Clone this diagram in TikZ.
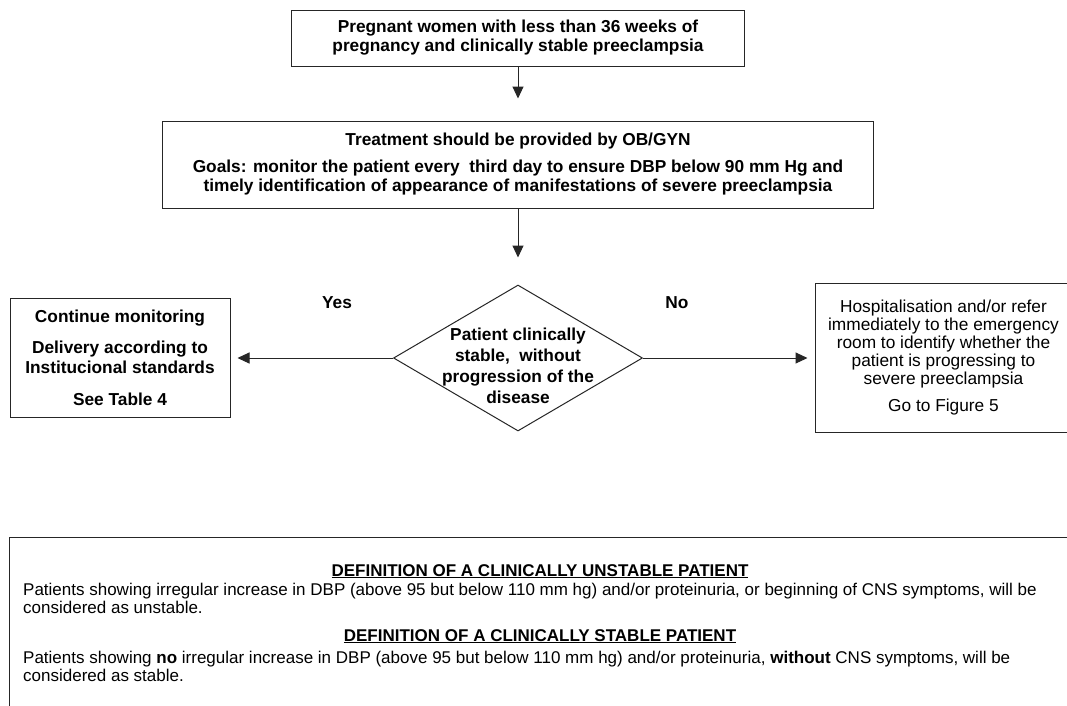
\documentclass[tikz,border=0pt]{standalone}
\usepackage{fontspec}
\setmainfont{Liberation Sans}
\usetikzlibrary{arrows.meta,shapes.geometric}
\begin{document}
\begin{tikzpicture}[x=1pt,y=-1pt,
  line/.style={draw=black!85, line width=1pt},
  box/.style={line, rectangle, inner sep=0pt, align=center},
  flowfont/.style={font=\fontsize{17.3}{19}\selectfont\bfseries},
  plainfont/.style={font=\fontsize{17.3}{18}\selectfont},
  notefont/.style={font=\fontsize{17}{18}\selectfont},
  arr/.style={line, -{Triangle[length=12pt,width=11pt]}},
  decision/.style={line, diamond, inner sep=0pt, minimum width=249pt, minimum height=146pt},
]
\clip (0,0) rectangle (1067,705);
\fill[white] (0,0) rectangle (1067,705);

% flow boxes
\node[box, flowfont, minimum width=453pt, minimum height=56pt] (start) at (518,38)
  {Pregnant women with less than 36 weeks of\\pregnancy and clinically stable preeclampsia};

\node[box, flowfont, minimum width=711pt, minimum height=87pt] (treat) at (518,164.5)
  {Treatment should be provided by OB/GYN\\[8pt]Goals: monitor the patient every\ \ third day to ensure DBP below 90 mm Hg and\\timely identification of appearance of manifestations of severe preeclampsia};

\node[decision] (dec) at (518,358) {};
\node[align=center, font=\fontsize{17.3}{21}\selectfont\bfseries] (dectext) at (518,365.5)
  {Patient clinically\\stable,\ \ without\\progression of the\\disease};

\node[box, font=\fontsize{17.3}{20}\selectfont\bfseries, minimum width=220pt, minimum height=119pt] (yesbox) at (120,358)
  {Continue monitoring\\[11pt]Delivery according to\\Institucional standards\\[12pt]See Table 4};

\node[box, plainfont, minimum width=257pt, minimum height=149pt] (nobox) at (943.5,358)
  {Hospitalisation and/or refer\\immediately to the emergency\\room to identify whether the\\patient is progressing to\\severe preeclampsia\\[9pt]Go to Figure 5};

% branch labels
\node[flowfont] (yes) at (337,303) {Yes};
\node[flowfont] (no) at (677,303) {No};

% connectors
\draw[arr, shorten >=22pt] (start) -- (treat);
\draw[arr, shorten >=27pt] (treat) -- (dec);
\draw[arr, shorten >=7pt] (dec) -- (yesbox);
\draw[arr, shorten >=7pt] (dec) -- (nobox);

% definitions panel
\node[box, minimum width=1072pt, minimum height=182pt] (defs) at (545,628) {};
\node[font=\fontsize{17}{18}\selectfont\bfseries, anchor=base] (h1) at (540,576)
  {\underline{DEFINITION OF A CLINICALLY UNSTABLE PATIENT}};
\node[notefont, align=left, anchor=base west, inner sep=0pt] (d1) at (23,613)
  {Patients showing irregular increase in DBP (above 95 but below 110 mm hg) and/or proteinuria, or beginning of CNS symptoms, will be\\considered as unstable.};
\node[font=\fontsize{17}{18}\selectfont\bfseries, anchor=base] (h2) at (540,641)
  {\underline{DEFINITION OF A CLINICALLY STABLE PATIENT}};
\node[notefont, align=left, anchor=base west, inner sep=0pt] (d2) at (23,681)
  {Patients showing \textbf{no} irregular increase in DBP (above 95 but below 110 mm hg) and/or proteinuria, \textbf{without} CNS symptoms, will be\\considered as stable.};
\end{tikzpicture}
\end{document}
